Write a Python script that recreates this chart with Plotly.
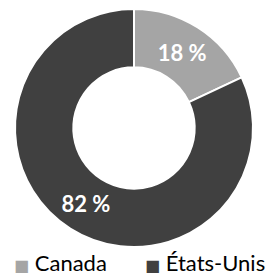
import plotly.graph_objects as go

categories = ["Canada", "États-Unis"]
values = [18, 82]
colors = ["#A5A5A5", "#404040"]

total = sum(values)
labels_text = [f"{round(v / total * 100)} %" for v in values]

fig = go.Figure(go.Pie(
    labels=categories,
    values=values,
    text=labels_text,
    textinfo="text",
    textposition="inside",
    insidetextorientation="horizontal",
    textfont=dict(family="Lato", size=22, color="white", weight="bold"),
    marker=dict(colors=colors, line=dict(color="white", width=2)),
    hole=0.51,
    sort=False,
    direction="clockwise",
    rotation=0,
    showlegend=False,
))

# Legend drawn as text annotations (square marker + label)
legend_x = [-0.013, 0.538]
for cat, col, lx in zip(categories, colors, legend_x):
    fig.add_annotation(
        xref="paper", yref="paper",
        x=lx, y=-0.066,
        xanchor="left", yanchor="middle",
        showarrow=False,
        text=f'<span style="color:{col};font-size:16px;font-family:DejaVu Sans">■</span>\u00a0{cat}',
        font=dict(family="Lato", size=22, color="#000000"),
    )

fig.update_layout(
    width=267, height=277,
    margin=dict(l=15, r=14, t=9, b=30),
    paper_bgcolor="white",
    plot_bgcolor="white",
    font=dict(family="Lato", color="#000000"),
    showlegend=False,
)

fig.write_html(
    "out.html",
    config={"displayModeBar": False},
    post_script="document.body.style.margin='0';document.body.style.overflow='hidden';",
)
